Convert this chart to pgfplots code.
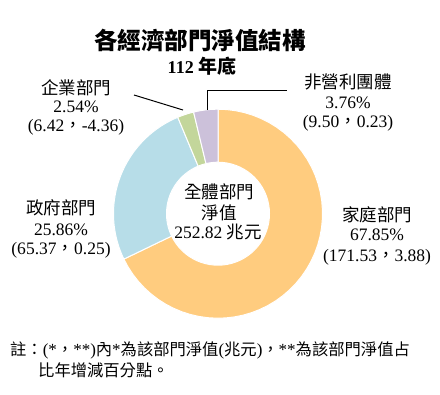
\documentclass[border=0pt]{standalone}
\usepackage{pgfplots}
\pgfplotsset{compat=1.18}
\usepackage{pgfplotstable}
\usepackage{fontspec}
\setmainfont{Liberation Serif}
\newfontfamily\cjk{Noto Sans CJK TC}
\newcommand\C[1]{{\cjk #1}}
\definecolor{cHouse}{HTML}{FFCC7F}
\definecolor{cGov}{HTML}{B7DDE8}
\definecolor{cEnt}{HTML}{C3D69B}
\definecolor{cNpo}{HTML}{CCC1DA}

\pgfplotstableread{
name share
household 67.85
government 25.86
enterprise 2.54
nonprofit 3.76
}\sharetable

\pgfplotstablegetelem{0}{share}\of\sharetable \let\sA\pgfplotsretval
\pgfplotstablegetelem{1}{share}\of\sharetable \let\sB\pgfplotsretval
\pgfplotstablegetelem{2}{share}\of\sharetable \let\sC\pgfplotsretval
\pgfplotstablegetelem{3}{share}\of\sharetable \let\sD\pgfplotsretval
\pgfmathsetmacro\aZ{90}
\pgfmathsetmacro\aA{\aZ-3.6*\sA}
\pgfmathsetmacro\aB{\aA-3.6*\sB}
\pgfmathsetmacro\aC{\aB-3.6*\sC}
\pgfmathsetmacro\aD{\aC-3.6*\sD}

\def\cx{218}
\def\cy{213.7}
\def\ro{104.5}
\def\ri{51.5}

% ring segment from angle #1 to #2, fill colour #3
\newcommand\slice[3]{%
\addplot[fill=#3, draw=white, line width=1pt, samples at={0,...,100}, variable=\t]
 ({\cx + ifthenelse(\t<50.5,\ro,\ri)*cos(ifthenelse(\t<50.5, #1+(#2-#1)*\t/50, #1+(#2-#1)*(100-\t)/49))},
  {\cy - ifthenelse(\t<50.5,\ro,\ri)*sin(ifthenelse(\t<50.5, #1+(#2-#1)*\t/50, #1+(#2-#1)*(100-\t)/49))}) -- cycle;
}

\begin{document}
\begin{tikzpicture}
\begin{axis}[
  width=440bp, height=394bp, scale only axis,
  xmin=0, xmax=440, ymin=0, ymax=394, y dir=reverse,
  hide axis, clip=false,
]
\addplot[draw=none] coordinates {(0,0) (440,394)};
\slice{\aZ}{\aA}{cHouse}
\slice{\aA}{\aB}{cGov}
\slice{\aB}{\aC}{cEnt}
\slice{\aC}{\aD}{cNpo}

% leader lines
\addplot[black, line width=1pt] coordinates {(134,95) (183,110)};
\addplot[black, line width=1pt] coordinates {(207.7,110) (207.7,90) (287,90)};

% title
\node[font=\fontsize{23.5bp}{26bp}\selectfont\bfseries] at (axis cs:200,40) {\C{各經濟部門淨值結構}};
\node[font=\fontsize{18bp}{20bp}\selectfont\bfseries] at (axis cs:202,66) {112 {\fontsize{19bp}{20bp}\selectfont\C{年底}}};

\tikzset{lab/.style={font=\fontsize{17.5bp}{20bp}\selectfont, inner sep=0pt}}
% nonprofit
\node[lab] at (axis cs:348,82) {\C{非營利團體}};
\node[lab] at (axis cs:348,103) {3.76\%};
\node[lab] at (axis cs:348,123) {(9.50\C{，}0.23)};
% enterprise
\node[lab] at (axis cs:76,88) {\C{企業部門}};
\node[lab] at (axis cs:76,107) {2.54\%};
\node[lab] at (axis cs:76,127) {(6.42\C{，}-4.36)};
% government
\node[lab] at (axis cs:61,208) {\C{政府部門}};
\node[lab] at (axis cs:61,230) {25.86\%};
\node[lab] at (axis cs:61,250) {(65.37\C{，}0.25)};
% household
\node[lab] at (axis cs:377,215) {\C{家庭部門}};
\node[lab] at (axis cs:377,235) {67.85\%};
\node[lab] at (axis cs:377,257) {(171.53\C{，}3.88)};
% centre
\node[lab] at (axis cs:219,192) {\C{全體部門}};
\node[lab] at (axis cs:219,213) {\C{淨值}};
\node[lab] at (axis cs:218,232) {252.82 \C{兆元}};

% footnote
\tikzset{fn/.style={font=\fontsize{17bp}{18bp}\selectfont, inner sep=0pt, anchor=west}}
\newcommand\F[1]{{\fontsize{16.3bp}{18bp}\selectfont\cjk #1}}
\node[fn] at (axis cs:10,350) {\F{註：}(*\F{，}**)\F{內}*\F{為該部門淨值}(\F{兆元})\F{，}**\F{為該部門淨值占}};
\node[fn] at (axis cs:38,370) {\F{比年增減百分點。}};
\end{axis}
\end{tikzpicture}
\end{document}
